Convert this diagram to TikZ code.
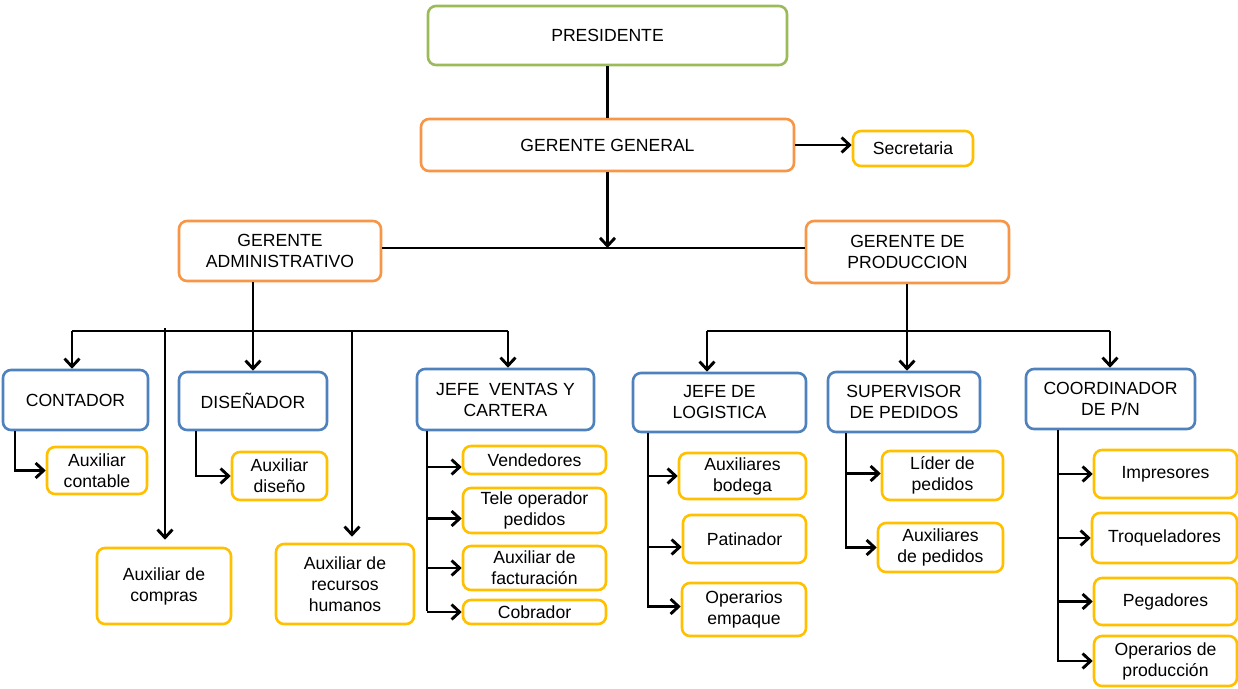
\documentclass[tikz,border=0pt]{standalone}
\usepackage{fontspec}
\setmainfont{Liberation Sans}
\usetikzlibrary{arrows.meta}
\definecolor{cgreen}{HTML}{9BBB59}
\definecolor{corange}{HTML}{F79646}
\definecolor{cblue}{HTML}{4F81BD}
\definecolor{cyellow}{HTML}{FFC000}
\newcommand\bx[7]{\node[#1, minimum width=#5pt, minimum height=#6pt] (#2) at (#3,#4) {#7};}
\begin{document}
\begin{tikzpicture}[x=1pt,y=-1pt,
  box/.style={draw, rounded corners=8pt, line width=2.6pt, align=center, inner sep=1pt,
    fill=white, font=\fontsize{17.6}{21}\selectfont},
  gbox/.style={box, draw=cgreen},
  obox/.style={box, draw=corange},
  bbox/.style={box, draw=cblue},
  ybox/.style={box, draw=cyellow},
  conn/.style={line width=2.9pt, black},
  arr/.style={conn, -{Straight Barb[length=8pt,width=15pt]}}]
\useasboundingbox (0,0) rectangle (1238,688);
% nodes
\bx{gbox}{pres}{607.5}{35.5}{359}{59}{PRESIDENTE}
\bx{obox}{gg}{607.5}{145}{373}{52}{GERENTE GENERAL}
\bx{ybox}{sec}{913}{148.5}{120}{35}{Secretaria}
\bx{obox}{ga}{280}{251}{202}{60}{GERENTE\\ADMINISTRATIVO}
\bx{obox}{gp}{907.5}{252}{203}{62}{GERENTE DE\\PRODUCCION}
\bx{bbox}{cont}{75.5}{400}{145}{60}{CONTADOR}
\bx{bbox}{dis}{253}{401}{148}{58}{DISEÑADOR}
\bx{bbox}{jv}{505.5}{399.5}{177}{61}{JEFE\ \ VENTAS Y\\CARTERA}
\bx{ybox}{auxc}{97}{470.5}{100}{47}{Auxiliar\\contable}
\bx{ybox}{auxd}{279.5}{476}{95}{48}{Auxiliar\\diseño}
\bx{ybox}{compras}{164}{586}{134}{76}{Auxiliar de\\compras}
\bx{ybox}{rh}{345}{584}{138}{80}{Auxiliar de\\recursos\\humanos}
\bx{ybox}{vend}{534.5}{460}{143}{28}{Vendedores}
\bx{ybox}{tele}{534.5}{510.5}{143}{45}{Tele operador\\pedidos}
\bx{ybox}{fact}{534.5}{568}{143}{44}{Auxiliar de\\facturación}
\bx{ybox}{cob}{534.5}{612}{143}{24}{Cobrador}
\bx{bbox}{jl}{719.5}{402.5}{173}{59}{JEFE DE\\LOGISTICA}
\bx{bbox}{sp}{904}{402}{152}{60}{SUPERVISOR\\DE PEDIDOS}
\bx{bbox}{co}{1110.5}{399}{169}{60}{COORDINADOR\\DE P/N}
\bx{ybox}{auxb}{742.5}{476}{127}{46}{Auxiliares\\bodega}
\bx{ybox}{pat}{744.5}{539}{123}{48}{Patinador}
\bx{ybox}{opem}{744}{609.5}{124}{53}{Operarios\\empaque}
\bx{ybox}{lider}{942.5}{475.5}{121}{49}{Líder de\\pedidos}
\bx{ybox}{auxp}{940.5}{547.5}{125}{49}{Auxiliares\\de pedidos}
\bx{ybox}{imp}{1165.5}{474}{143}{48}{Impresores}
\bx{ybox}{troq}{1164.5}{538}{145}{50}{Troqueladores}
\bx{ybox}{peg}{1165.5}{601.5}{143}{47}{Pegadores}
\bx{ybox}{opp}{1165.5}{661}{143}{50}{Operarios de\\producción}
% coordinates
\coordinate (top) at (607.5,248);
\coordinate (abus) at (253,331);
\coordinate (abusL) at (72,331);
\coordinate (abusR) at (508,331);
\coordinate (a1) at (165,331);
\coordinate (a2) at (352,331);
\coordinate (pbus) at (907,331);
\coordinate (pbusL) at (707,331);
\coordinate (pbusR) at (1110,331);
\coordinate (t1) at (15,0);
\coordinate (t2) at (196,0);
\coordinate (t3) at (427,0);
\coordinate (t5) at (648,0);
\coordinate (t6) at (846,0);
\coordinate (t7) at (1058,0);
% top connectors
\draw[conn] (pres) -- (gg);
\draw[arr] (gg.east) -- (gg.east -| sec.west);
\draw[arr] (gg.south) -- (top);
\draw[conn] (ga.east |- top) -- (gp.west |- top);
% admin
\draw[conn] (ga.south -| abus) -- (abus);
\draw[conn] (abusL) -- (abusR);
\draw[arr] (abusL) -- (abusL |- cont.north);
\draw[arr] (abus) -- (abus |- dis.north);
\draw[arr] (abusR) -- (abusR |- jv.north);
\draw[arr, shorten >=7pt] ([yshift=3pt]a1) -- (a1 |- compras.north);
\draw[arr, shorten >=6pt] (a2) -- (a2 |- rh.north);
\draw[arr] (cont.south -| t1) |- (auxc.west);
\draw[arr] (dis.south -| t2) |- (auxd.west);
\draw[conn] (jv.south -| t3) -- ([yshift=1.45pt]t3 |- cob.west);
\draw[arr] ([yshift=-7pt]t3 |- vend.west) -- ([yshift=-7pt]vend.west);
\draw[arr] ([yshift=-8pt]t3 |- tele.west) -- ([yshift=-8pt]tele.west);
\draw[arr] (t3 |- fact.west) -- (fact.west);
\draw[arr] (t3 |- cob.west) -- (cob.west);
% production
\draw[conn] (gp.south -| pbus) -- (pbus);
\draw[conn] (pbusL) -- (pbusR);
\draw[arr] (pbusL) -- (pbusL |- jl.north);
\draw[arr] (pbus) -- (pbus |- sp.north);
\draw[arr] (pbusR) -- (pbusR |- co.north);
\draw[arr] (jl.south -| t5) |- ([yshift=3pt]opem.west);
\draw[arr] (t5 |- auxb.west) -- (auxb.west);
\draw[arr] ([yshift=-8pt]t5 |- pat.west) -- ([yshift=-8pt]pat.west);
\draw[arr] (sp.south -| t6) |- (auxp.west);
\draw[arr] ([yshift=2pt]t6 |- lider.west) -- ([yshift=2pt]lider.west);
\draw[arr] (co.south -| t7) |- (opp.west);
\draw[arr] (t7 |- imp.west) -- (imp.west);
\draw[arr] (t7 |- troq.west) -- (troq.west);
\draw[arr] (t7 |- peg.west) -- (peg.west);
\end{tikzpicture}
\end{document}
